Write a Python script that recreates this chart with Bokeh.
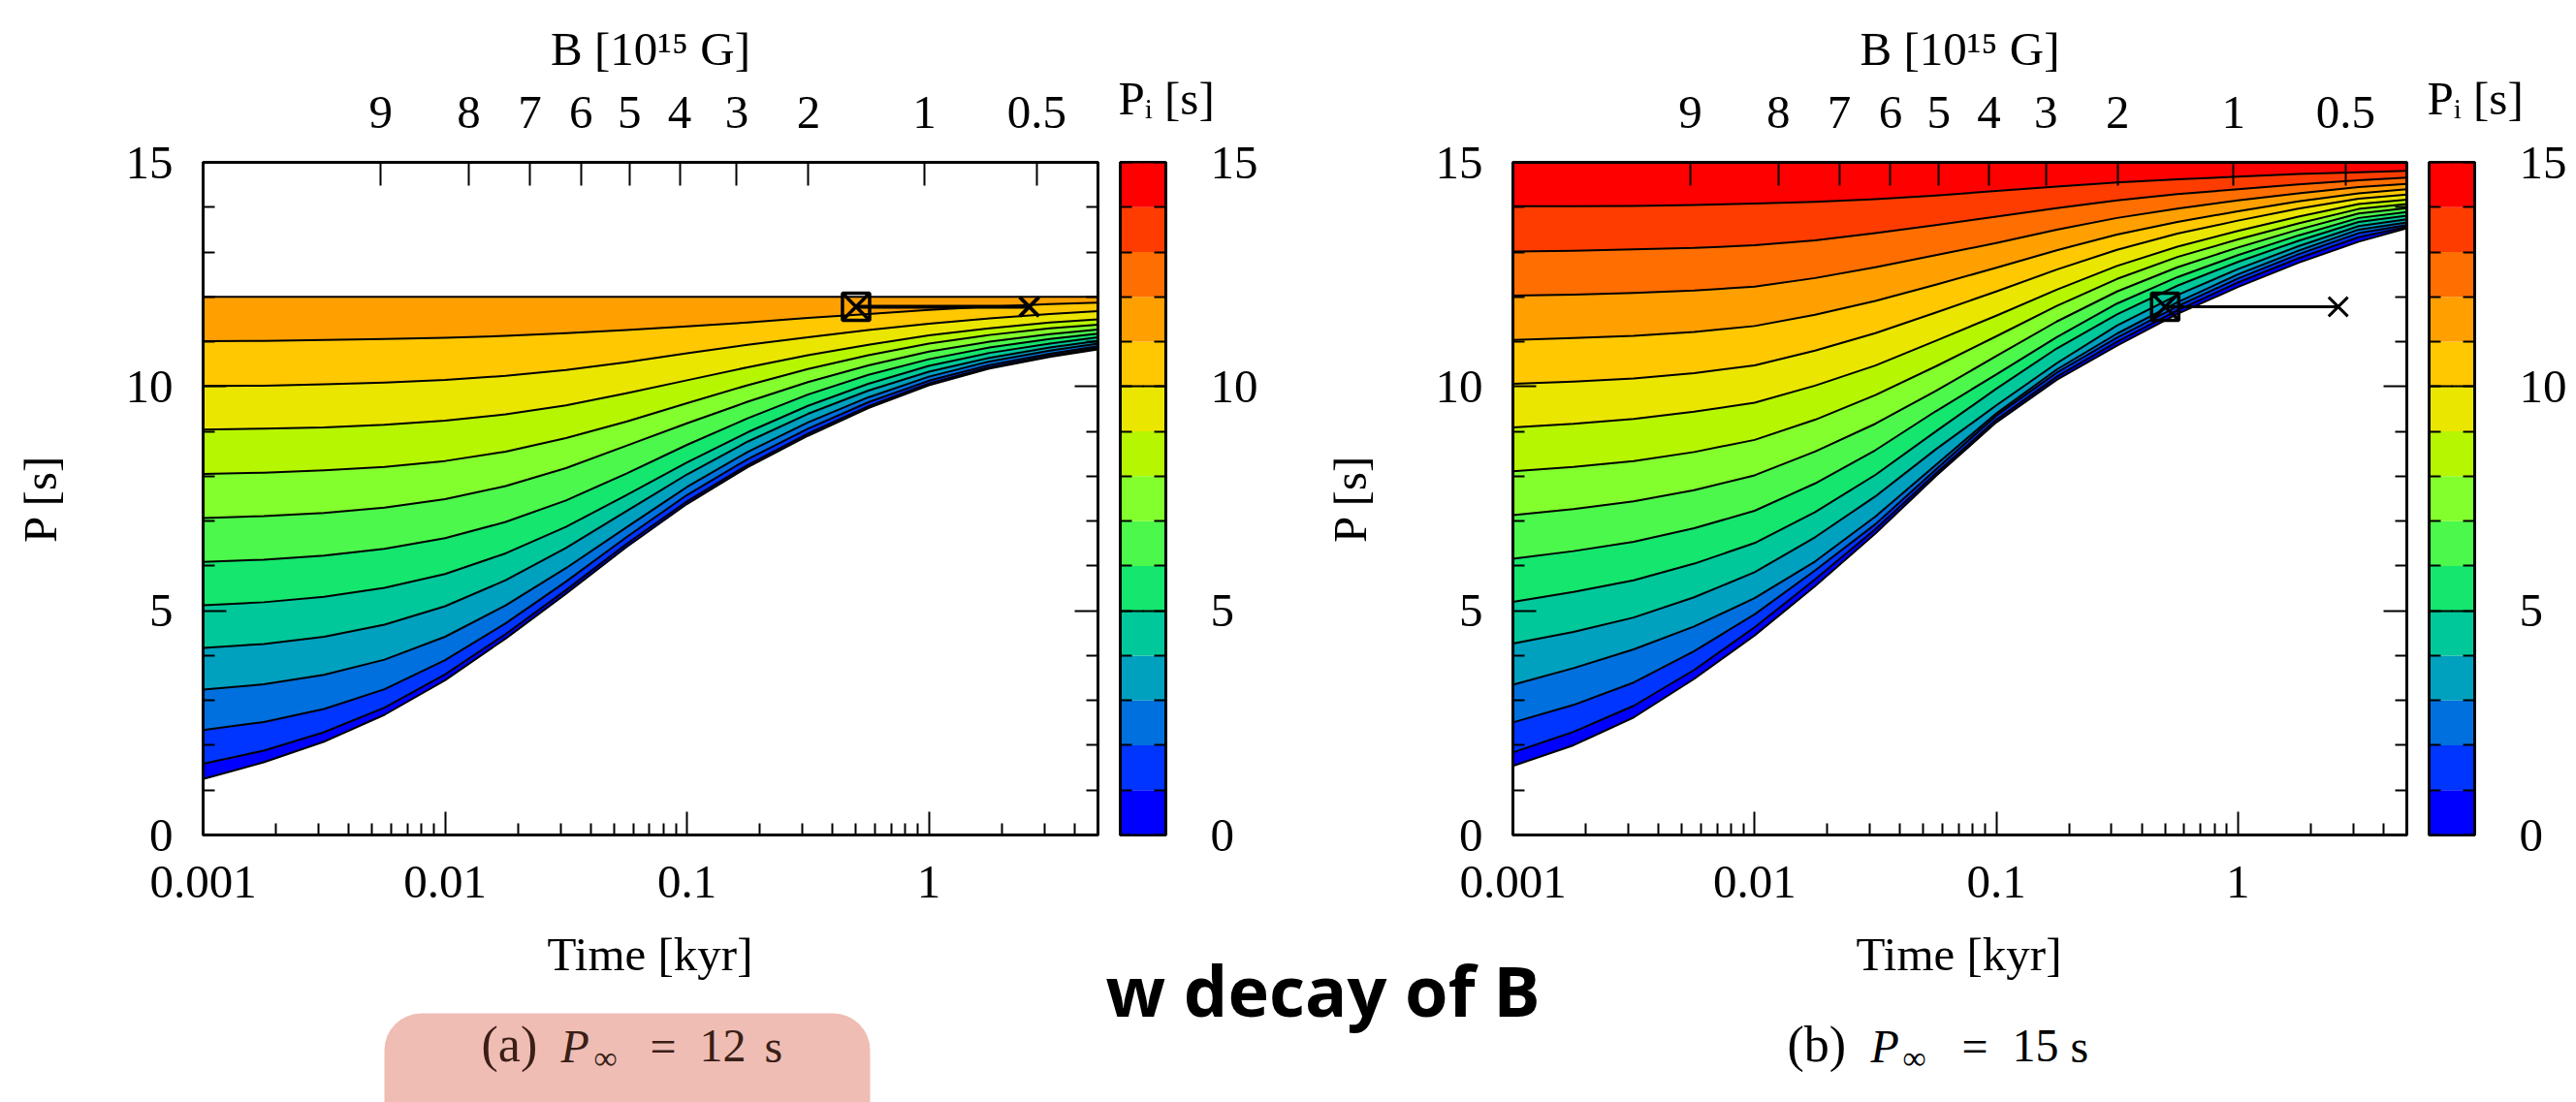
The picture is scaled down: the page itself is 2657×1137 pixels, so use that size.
from bokeh.plotting import figure
from bokeh.layouts import row, column
from bokeh.models import (Range1d, LinearAxis, LogAxis, FixedTicker,
                          CustomJSTickFormatter, Label, BoxAnnotation)
from bokeh.embed import file_html
from bokeh.resources import INLINE

SERIF = "Liberation Serif"

# ---------------------------------------------------------------- data
# sampling times [kyr]
time_kyr = [0.001, 0.00178, 0.00316, 0.00562, 0.01, 0.0178, 0.0316, 0.0562,
            0.1, 0.178, 0.316, 0.562, 1.0, 1.78, 3.16, 5.0]

# (a) P_inf = 12 s : spin period P(t) for initial periods P_i = 0 ... 12 s
pa_00 = [1.25, 1.62, 2.08, 2.68, 3.45, 4.38, 5.38, 6.42, 7.38, 8.20, 8.90, 9.52, 10.03, 10.40, 10.66, 10.83]
pa_01 = [1.59, 1.88, 2.29, 2.84, 3.58, 4.48, 5.46, 6.49, 7.44, 8.25, 8.95, 9.56, 10.07, 10.43, 10.69, 10.86]
pa_02 = [2.34, 2.52, 2.81, 3.25, 3.90, 4.72, 5.65, 6.64, 7.58, 8.38, 9.06, 9.65, 10.13, 10.48, 10.73, 10.90]
pa_03 = [3.24, 3.36, 3.57, 3.91, 4.42, 5.12, 5.95, 6.86, 7.76, 8.54, 9.20, 9.76, 10.22, 10.56, 10.80, 10.96]
pa_04 = [4.17, 4.26, 4.42, 4.69, 5.10, 5.68, 6.40, 7.22, 8.04, 8.77, 9.39, 9.91, 10.33, 10.64, 10.87, 11.02]
pa_05 = [5.12, 5.19, 5.31, 5.51, 5.82, 6.28, 6.87, 7.58, 8.31, 8.98, 9.57, 10.06, 10.46, 10.75, 10.96, 11.10]
pa_06 = [6.09, 6.14, 6.23, 6.38, 6.62, 6.98, 7.46, 8.06, 8.70, 9.29, 9.82, 10.26, 10.61, 10.87, 11.06, 11.18]
pa_07 = [7.07, 7.11, 7.18, 7.30, 7.49, 7.78, 8.18, 8.68, 9.18, 9.66, 10.10, 10.47, 10.78, 11.00, 11.17, 11.27]
pa_08 = [8.05, 8.08, 8.13, 8.21, 8.34, 8.55, 8.85, 9.22, 9.63, 10.03, 10.39, 10.70, 10.96, 11.15, 11.30, 11.38]
pa_09 = [9.04, 9.06, 9.09, 9.15, 9.24, 9.38, 9.58, 9.85, 10.14, 10.43, 10.70, 10.93, 11.14, 11.30, 11.43, 11.50]
pa_10 = [10.01, 10.02, 10.05, 10.09, 10.15, 10.24, 10.37, 10.54, 10.74, 10.93, 11.10, 11.26, 11.40, 11.52, 11.62, 11.68]
pa_11 = [11.01, 11.02, 11.04, 11.06, 11.09, 11.13, 11.19, 11.26, 11.34, 11.43, 11.53, 11.62, 11.71, 11.78, 11.84, 11.87]
pa_12 = [12.0, 12.0, 12.0, 12.0, 12.0, 12.0, 12.0, 12.0, 12.0, 12.0, 12.0, 12.0, 12.0, 12.0, 12.0, 12.0]

# (b) P_inf = 15 s : P(t) for P_i = 0 ... 15 s
pb_00 = [1.54, 2.00, 2.62, 3.48, 4.45, 5.55, 6.72, 8.00, 9.20, 10.15, 10.91, 11.62, 12.22, 12.76, 13.23, 13.53]
pb_01 = [1.84, 2.30, 2.88, 3.68, 4.63, 5.70, 6.82, 8.06, 9.26, 10.22, 11.00, 11.70, 12.32, 12.86, 13.33, 13.56]
pb_02 = [2.51, 2.90, 3.40, 4.10, 4.92, 5.90, 6.93, 8.15, 9.35, 10.31, 11.09, 11.79, 12.41, 12.95, 13.42, 13.60]
pb_03 = [3.35, 3.72, 4.14, 4.65, 5.28, 6.10, 7.10, 8.25, 9.40, 10.38, 11.18, 11.88, 12.50, 13.03, 13.50, 13.66]
pb_04 = [4.27, 4.53, 4.85, 5.30, 5.86, 6.64, 7.55, 8.60, 9.58, 10.52, 11.36, 12.04, 12.62, 13.13, 13.58, 13.73]
pb_05 = [5.20, 5.42, 5.68, 6.05, 6.51, 7.20, 8.03, 9.00, 9.95, 10.85, 11.61, 12.25, 12.78, 13.25, 13.67, 13.81]
pb_06 = [6.16, 6.33, 6.54, 6.84, 7.23, 7.84, 8.58, 9.45, 10.27, 11.10, 11.85, 12.44, 12.93, 13.37, 13.76, 13.89]
pb_07 = [7.13, 7.27, 7.44, 7.69, 8.02, 8.55, 9.17, 9.90, 10.68, 11.45, 12.12, 12.66, 13.10, 13.50, 13.86, 13.98]
pb_08 = [8.11, 8.21, 8.34, 8.54, 8.81, 9.26, 9.81, 10.45, 11.12, 11.80, 12.40, 12.89, 13.28, 13.64, 13.96, 14.07]
pb_09 = [9.09, 9.17, 9.28, 9.44, 9.64, 10.02, 10.47, 11.02, 11.58, 12.16, 12.69, 13.12, 13.47, 13.79, 14.07, 14.17]
pb_10 = [10.06, 10.11, 10.18, 10.30, 10.47, 10.80, 11.19, 11.65, 12.12, 12.61, 13.05, 13.41, 13.70, 13.97, 14.19, 14.28]
pb_11 = [11.04, 11.08, 11.13, 11.22, 11.35, 11.60, 11.91, 12.27, 12.65, 13.04, 13.39, 13.67, 13.91, 14.13, 14.31, 14.40]
pb_12 = [12.03, 12.05, 12.09, 12.14, 12.23, 12.42, 12.66, 12.93, 13.20, 13.50, 13.76, 13.97, 14.15, 14.31, 14.45, 14.52]
pb_13 = [13.01, 13.03, 13.06, 13.09, 13.15, 13.26, 13.42, 13.60, 13.79, 13.98, 14.15, 14.29, 14.40, 14.51, 14.60, 14.66]
pb_14 = [14.02, 14.02, 14.03, 14.05, 14.08, 14.12, 14.18, 14.26, 14.36, 14.46, 14.55, 14.62, 14.68, 14.74, 14.78, 14.81]
pb_15 = [15.0, 15.0, 15.0, 15.0, 15.0, 15.0, 15.0, 15.0, 15.0, 15.0, 15.0, 15.0, 15.0, 15.0, 15.0, 15.0]

curves_a = [pa_00, pa_01, pa_02, pa_03, pa_04, pa_05, pa_06, pa_07,
            pa_08, pa_09, pa_10, pa_11, pa_12]
curves_b = [pb_00, pb_01, pb_02, pb_03, pb_04, pb_05, pb_06, pb_07,
            pb_08, pb_09, pb_10, pb_11, pb_12, pb_13, pb_14, pb_15]

# colour levels of P_i [s] and their colours
pi_levels = [0, 1, 2, 3, 4, 5, 6, 7, 8, 9, 10, 11, 12, 13, 14, 15]
band_colors = ["#0000ff", "#0034ff", "#0070de", "#00a0bf", "#00c89b", "#14e66e",
               "#4cf84c", "#82ff2d", "#b6f600", "#eae600", "#ffc800", "#ffa000",
               "#ff6e00", "#ff3c00", "#ff0000"]

# observed source: present age / period, and upper age bound
marker_t = [0.5, 2.6]
marker_p = [11.78, 11.78]

# axis ticks
t_major = [0.001, 0.01, 0.1, 1.0]
t_minor = [0.002, 0.003, 0.004, 0.005, 0.006, 0.007, 0.008, 0.009,
           0.02, 0.03, 0.04, 0.05, 0.06, 0.07, 0.08, 0.09,
           0.2, 0.3, 0.4, 0.5, 0.6, 0.7, 0.8, 0.9, 2.0, 3.0, 4.0]
p_major = [0, 5, 10, 15]
p_minor = [1, 2, 3, 4, 6, 7, 8, 9, 11, 12, 13, 14]
b_labels = ["9", "8", "7", "6", "5", "4", "3", "2", "1", "0.5"]
b_tick_times = [0.00542, 0.01253, 0.0224, 0.0365, 0.0578, 0.0933,
                0.1607, 0.318, 0.959, 2.79]

# ---------------------------------------------------------------- layout
PAGE_H = 1137
ROW_H = 954          # height of the panel row
FRAME_TOP = 167      # frame top inside the row
FRAME_BOTTOM = 861   # frame bottom inside the row
STRIP_H = PAGE_H - ROW_H


def style_axis(ax, show_labels=True, minor=True):
    ax.axis_line_width = 3
    ax.axis_line_color = "black"
    ax.major_tick_line_width = 2
    ax.minor_tick_line_width = 2
    ax.major_tick_in = 24
    ax.major_tick_out = 0
    ax.minor_tick_in = 12 if minor else 0
    ax.minor_tick_out = 0
    ax.major_label_text_font = SERIF
    if show_labels:
        ax.major_label_text_color = "black"
        ax.major_label_text_font_size = "49px"
    else:
        # tick marks only
        ax.major_label_text_color = None
        ax.major_label_text_font_size = "1px"
        ax.major_label_standoff = 0
    ax.axis_label_text_font = SERIF
    ax.axis_label_text_font_size = "49px"
    ax.axis_label_text_font_style = "normal"
    ax.axis_label_text_color = "black"


def make_panel(width, border_left, border_right, curves, mark_width):
    p = figure(width=width, height=ROW_H, x_axis_type="log",
               x_range=Range1d(0.001, 5.0), y_range=Range1d(0, 15),
               x_axis_location=None, y_axis_location=None,
               min_border_left=border_left, min_border_right=border_right,
               min_border_top=FRAME_TOP, min_border_bottom=ROW_H - FRAME_BOTTOM,
               output_backend="svg", toolbar_location=None)
    p.grid.visible = False
    p.outline_line_color = "black"
    p.outline_line_width = 3
    p.background_fill_color = "white"

    # filled bands between consecutive P_i curves, then the curves
    for k in range(len(curves) - 1):
        p.varea(x=time_kyr, y1=curves[k], y2=curves[k + 1],
                fill_color=band_colors[k])
    for c in curves:
        p.line(time_kyr, c, line_color="black", line_width=2,
               line_join="round")

    # source marker
    p.line(marker_t, marker_p, line_color="black", line_width=mark_width)
    p.scatter(marker_t[:1], marker_p[:1], marker="square_x", size=28,
              fill_color=None, line_color="black", line_width=3.5)
    p.scatter(marker_t[1:], marker_p[1:], marker="x", size=28,
              line_color="black", line_width=mark_width)

    # bottom: time axis
    xb = LogAxis(ticker=FixedTicker(ticks=t_major, minor_ticks=t_minor),
                 formatter=CustomJSTickFormatter(code="return tick.toString();"))
    style_axis(xb)
    xb.major_label_standoff = 32
    p.add_layout(xb, "below")

    # top: magnetic field at the corresponding age
    xt = LogAxis(ticker=FixedTicker(ticks=b_tick_times, minor_ticks=[]),
                 formatter=CustomJSTickFormatter(
                     args=dict(tv=b_tick_times, lab=b_labels),
                     code="""
                     let best = 0;
                     for (let i = 1; i < tv.length; i++) {
                       if (Math.abs(Math.log(tv[i] / tick)) < Math.abs(Math.log(tv[best] / tick))) best = i;
                     }
                     return lab[best];"""),
                 axis_label="B [10\u00b9\u2075 G]")
    style_axis(xt, minor=False)
    xt.major_label_standoff = 36
    xt.axis_label_standoff = 19
    p.add_layout(xt, "above")

    # left / right: period axis
    yl = LinearAxis(ticker=FixedTicker(ticks=p_major, minor_ticks=p_minor),
                    axis_label="P [s]")
    style_axis(yl)
    yl.major_label_standoff = 31
    yl.axis_label_standoff = 58
    p.add_layout(yl, "left")

    yr = LinearAxis(ticker=FixedTicker(ticks=p_major, minor_ticks=p_minor))
    style_axis(yr, show_labels=False)
    p.add_layout(yr, "right")
    return p


def make_colorbar(width, border_right):
    c = figure(width=width, height=ROW_H, title="P\u1d62 [s]",
               x_range=Range1d(0, 1), y_range=Range1d(0, 15),
               x_axis_location=None, y_axis_location=None,
               min_border_left=12, min_border_right=border_right,
               min_border_top=FRAME_TOP, min_border_bottom=ROW_H - FRAME_BOTTOM,
               output_backend="svg", toolbar_location=None)
    c.grid.visible = False
    c.outline_line_color = "black"
    c.outline_line_width = 3
    c.title.text_font = SERIF
    c.title.text_font_size = "49px"
    c.title.text_font_style = "normal"
    c.title.text_color = "black"
    c.title.align = "left"
    c.title.offset = -2
    c.title.standoff = 78

    c.quad(left=0, right=1, bottom=pi_levels[:-1], top=pi_levels[1:],
           fill_color=band_colors, line_color=None)

    yl = LinearAxis(ticker=FixedTicker(ticks=p_major, minor_ticks=pi_levels))
    style_axis(yl, show_labels=False)
    c.add_layout(yl, "left")
    yr = LinearAxis(ticker=FixedTicker(ticks=p_major, minor_ticks=pi_levels))
    style_axis(yr)
    yr.major_label_standoff = 46
    c.add_layout(yr, "right")
    return c


panel_a = make_panel(1143, 209, 11, curves_a, 4.0)
cbar_a = make_colorbar(186, 127)
panel_b = make_panel(1164, 231, 11, curves_b, 3.0)
cbar_b = make_colorbar(164, 105)

# ---------------------------------------------------------------- captions
strip = figure(width=2657, height=STRIP_H,
               x_range=Range1d(0, 2657), y_range=Range1d(0, STRIP_H),
               x_axis_location=None, y_axis_location=None, min_border=0,
               output_backend="svg", toolbar_location=None)
strip.grid.visible = False
strip.outline_line_color = None


def ymid(y_baseline, size, k=0.3375):
    """strip y of the text middle, given the page y of its baseline"""
    return PAGE_H - (y_baseline - k * size)


for xc in (670, 2020):
    strip.add_layout(Label(x=xc, y=ymid(1001, 49), text="Time [kyr]", text_font=SERIF,
                           text_font_size="49px", text_color="black",
                           text_align="center", text_baseline="middle"))

strip.add_layout(BoxAnnotation(left=396, right=897, top=PAGE_H - 1045, bottom=-60,
                               fill_color="#efbdb4", fill_alpha=1.0,
                               line_color=None, border_radius=38))


def caption(x0, steps, tag, value, color):
    dx_p, dx_inf, dx_eq, dx_val, dx_s = steps
    parts = [(0, tag, "52px", "normal", 1095),
             (dx_p, "P", "48px", "italic", 1095),
             (dx_inf, "\u221e", "34px", "normal", 1102),
             (dx_eq, "=", "48px", "normal", 1095),
             (dx_val, value, "48px", "normal", 1095),
             (dx_s, "s", "48px", "normal", 1095)]
    for dx, txt, size, style, base in parts:
        strip.add_layout(Label(x=x0 + dx, y=ymid(base, float(size[:-2])), text=txt,
                               text_font=SERIF, text_font_size=size,
                               text_font_style=style, text_color=color,
                               text_baseline="middle"))


caption(496, (82, 116, 174, 225, 292), "(a)", "12", "#3a1f17")
caption(1843, (86, 119, 180, 232, 292), "(b)", "15", "black")

strip.add_layout(Label(x=1140, y=ymid(1048, 72, 0.388), text="w decay of B",
                       text_font="Open Sans", text_font_style="bold",
                       text_font_size="72px", text_color="black",
                       text_baseline="middle"))

layout = column(row(panel_a, cbar_a, panel_b, cbar_b), strip)

with open("out.html", "w") as f:
    f.write(file_html(layout, INLINE))
